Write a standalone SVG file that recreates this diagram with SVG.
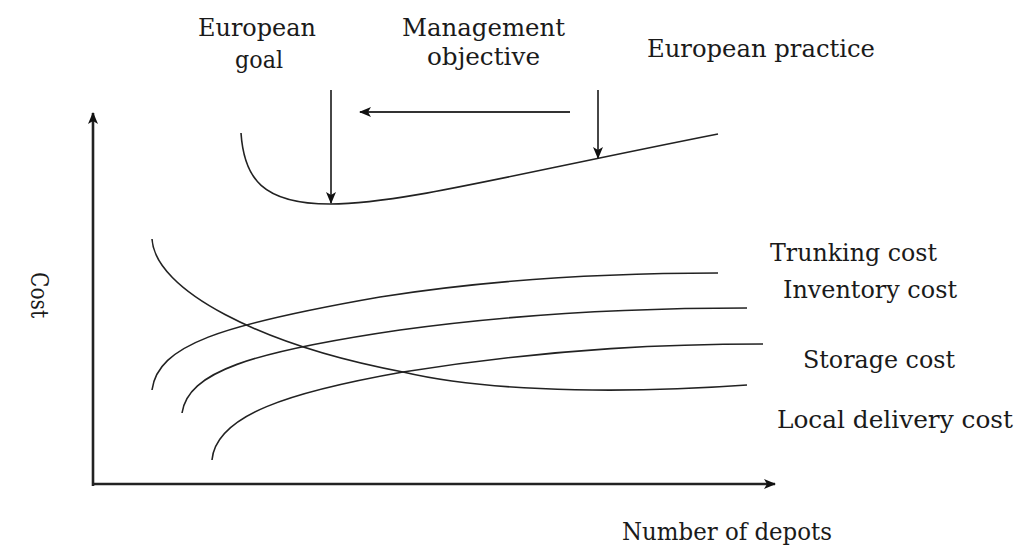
<svg xmlns="http://www.w3.org/2000/svg" width="1022" height="549" viewBox="0 0 1022 549">
  <style>
    .lbl { font-family: "DejaVu Serif", "Liberation Serif", serif; font-size: 24px; fill: #1a1a1a; }
    .curve { fill: none; stroke: #222; stroke-width: 1.6; }
    .axis { fill: none; stroke: #222; stroke-width: 2.6; }
    .ptr { fill: none; stroke: #333; stroke-width: 1.8; }
  </style>
  <defs>
    <marker id="head" viewBox="0 0 12 10" refX="11" refY="5" markerWidth="12" markerHeight="10" markerUnits="userSpaceOnUse" orient="auto">
      <path d="M0,0 L12,5 L0,10 L3,5 Z" fill="#111"/>
    </marker>
  </defs>

  <!-- axes -->
  <g id="axes">
    <line class="axis" x1="93" y1="486" x2="93" y2="113" marker-end="url(#head)"/>
    <line class="axis" x1="92" y1="484" x2="775" y2="484" marker-end="url(#head)"/>
    <text class="lbl" transform="translate(31,272) rotate(90)" textLength="46" lengthAdjust="spacingAndGlyphs">Cost</text>
    <text class="lbl" x="622" y="540" textLength="210" lengthAdjust="spacingAndGlyphs">Number of depots</text>
  </g>

  <!-- total cost curve -->
  <g id="total-cost">
    <path class="curve" d="M241,133 C244,178 262,204 330,204 C400,204 500,177 718,134"/>
  </g>

  <!-- component cost curves -->
  <g id="trunking-cost">
    <path class="curve" d="M152,390 C158,345 220,325 380,297 C500,278 620,273 718,273"/>
    <text class="lbl" x="770" y="261" textLength="167" lengthAdjust="spacingAndGlyphs">Trunking cost</text>
  </g>
  <g id="inventory-cost">
    <path class="curve" d="M182,413 C188,372 250,352 400,330 C530,312 650,308 747,308"/>
    <text class="lbl" x="783" y="298" textLength="174" lengthAdjust="spacingAndGlyphs">Inventory cost</text>
  </g>
  <g id="storage-cost">
    <path class="curve" d="M212,460 C216,415 290,392 403,372 C560,347 680,344 763,344"/>
    <text class="lbl" x="803" y="368" textLength="152" lengthAdjust="spacingAndGlyphs">Storage cost</text>
  </g>
  <g id="local-delivery-cost">
    <path class="curve" d="M152,239 C155,290 260,345 403,372 C500,395 650,392 747,385"/>
    <text class="lbl" x="777" y="428" textLength="236" lengthAdjust="spacingAndGlyphs">Local delivery cost</text>
  </g>

  <!-- annotations -->
  <g id="european-goal">
    <text class="lbl" x="198" y="36" textLength="118" lengthAdjust="spacingAndGlyphs">European</text>
    <text class="lbl" x="235" y="68" textLength="48" lengthAdjust="spacingAndGlyphs">goal</text>
  </g>
  <g id="management-objective">
    <text class="lbl" x="402" y="36" textLength="163" lengthAdjust="spacingAndGlyphs">Management</text>
    <text class="lbl" x="427" y="65" textLength="113" lengthAdjust="spacingAndGlyphs">objective</text>
  </g>
  <g id="european-practice">
    <text class="lbl" x="647" y="57" textLength="228" lengthAdjust="spacingAndGlyphs">European practice</text>
  </g>

  <!-- pointer arrows -->
  <g id="connectors">
    <line class="ptr" x1="331" y1="90" x2="331" y2="203" marker-end="url(#head)"/>
    <line class="ptr" x1="598" y1="90" x2="598" y2="158" marker-end="url(#head)"/>
    <line class="ptr" x1="570" y1="112" x2="360" y2="112" marker-end="url(#head)"/>
  </g>
</svg>
